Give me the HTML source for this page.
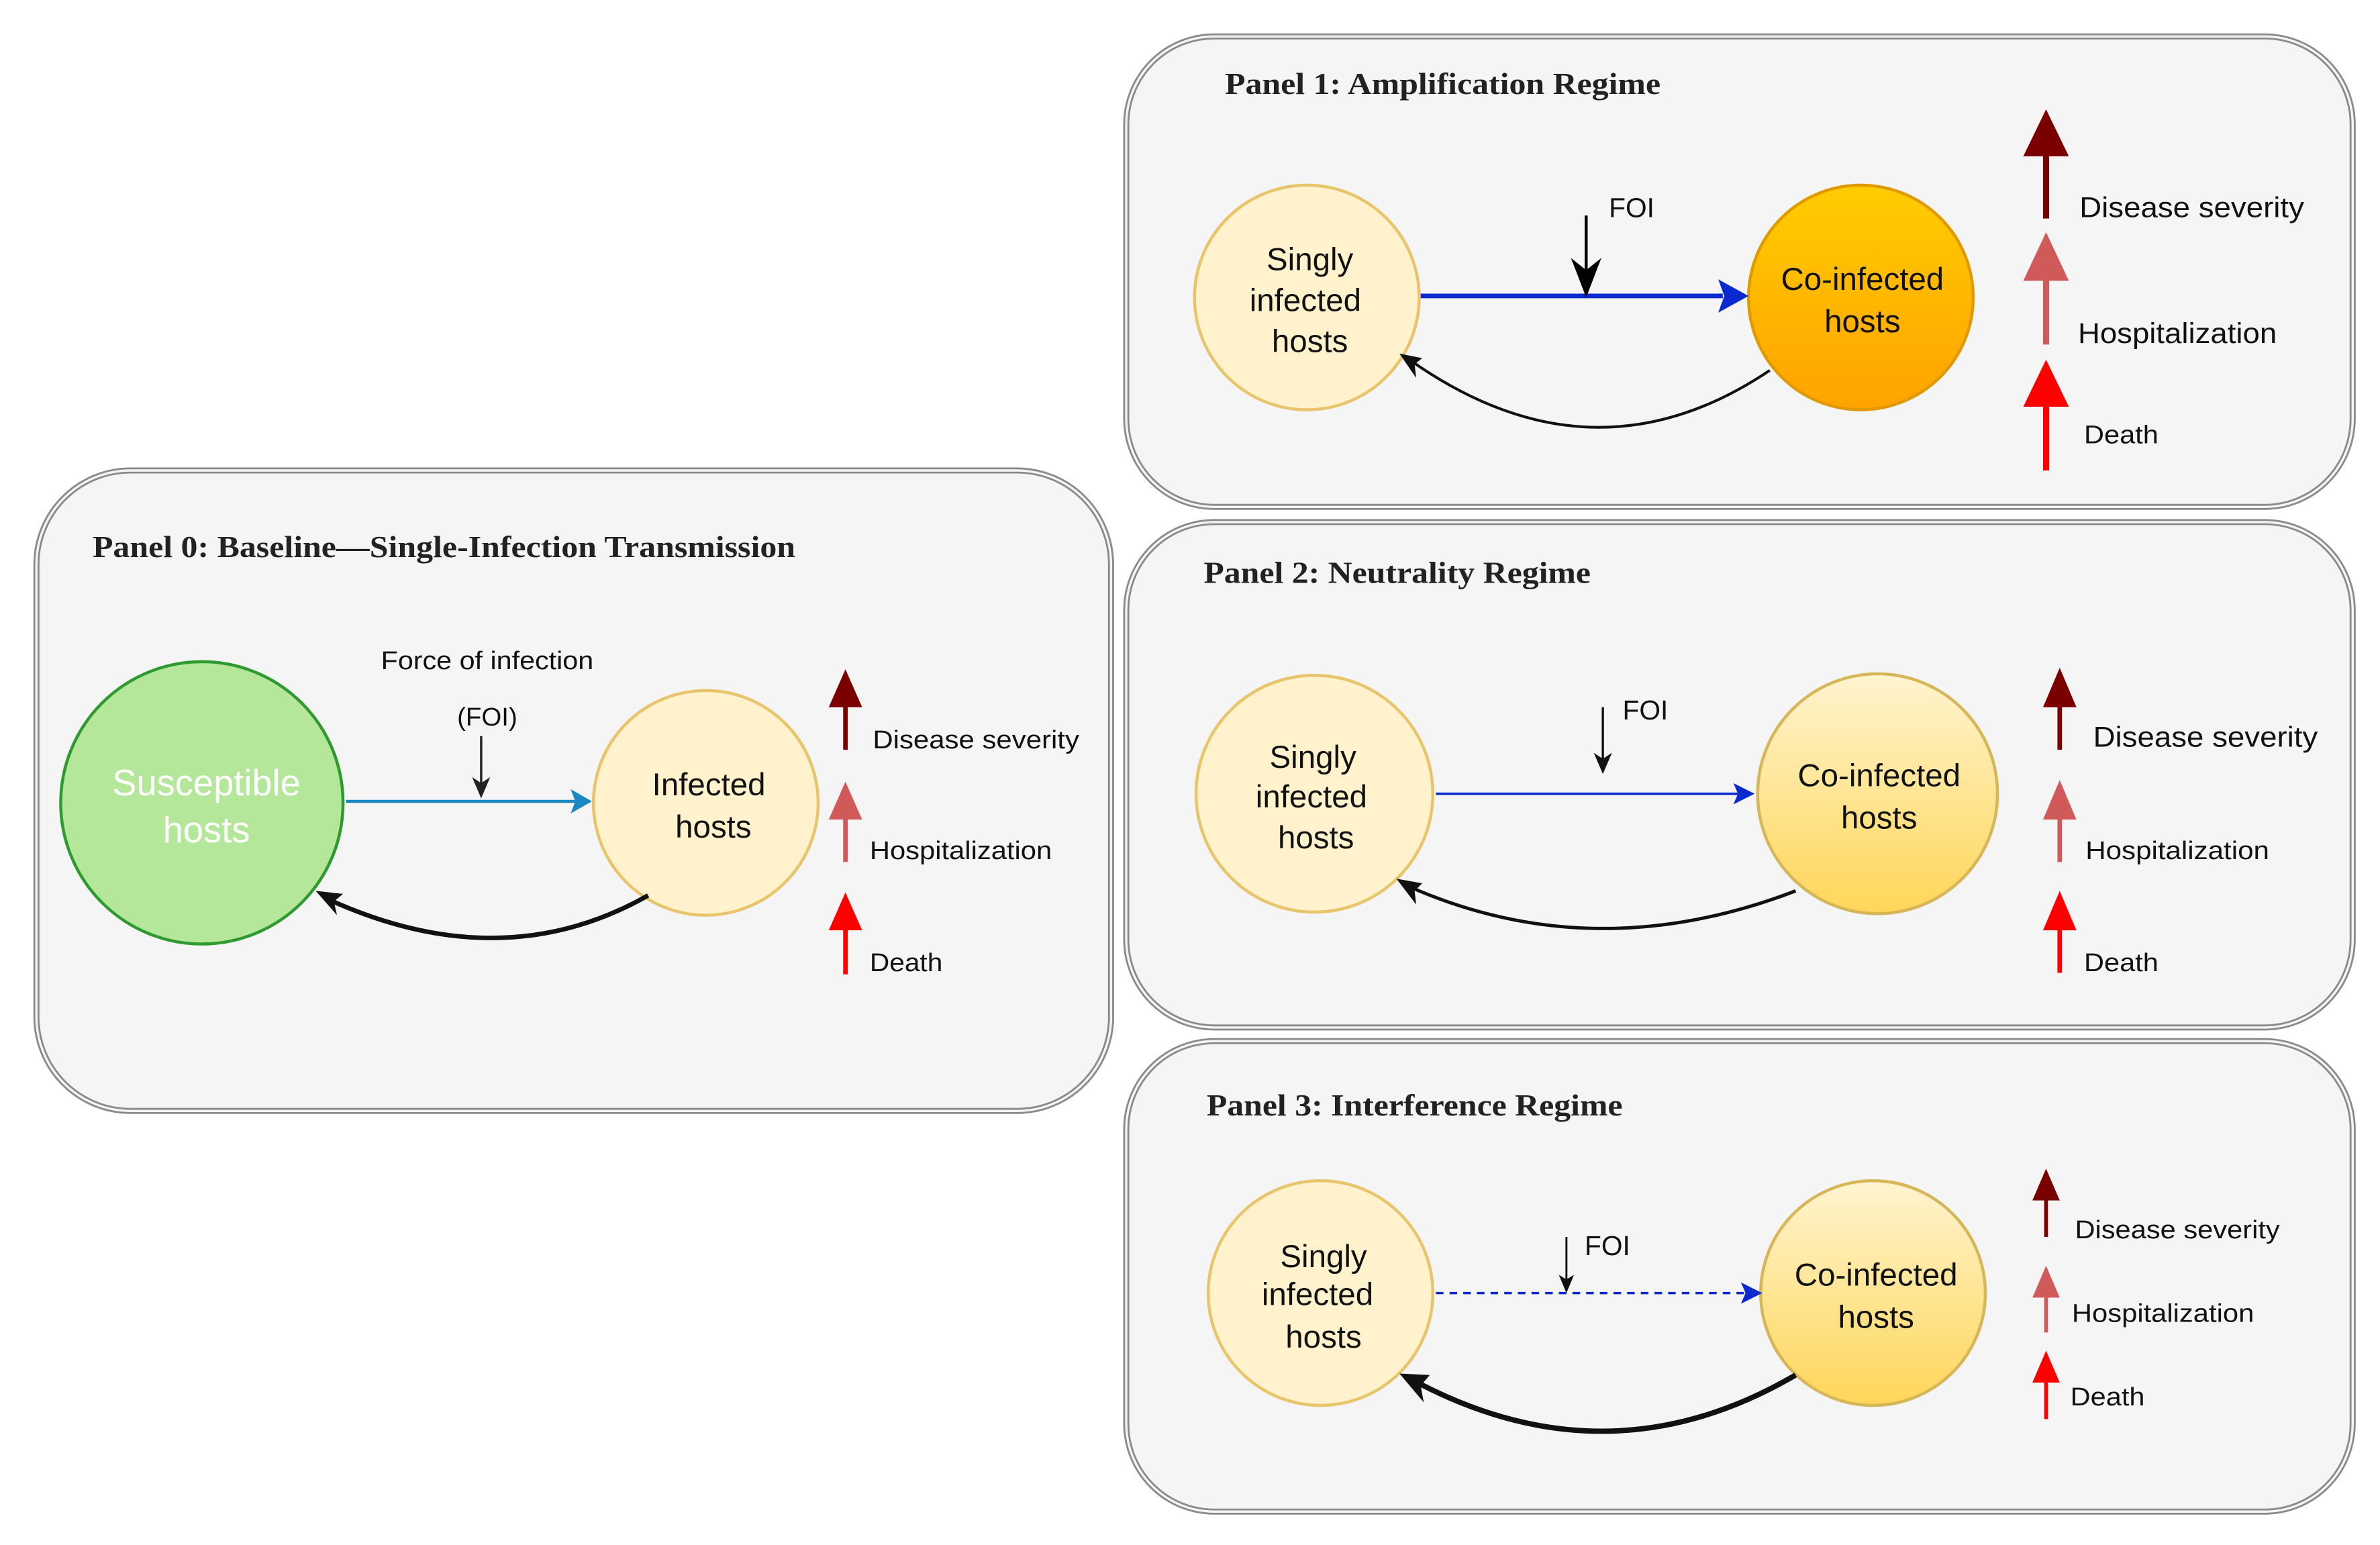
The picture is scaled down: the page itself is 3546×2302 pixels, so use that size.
<!DOCTYPE html>
<html><head><meta charset="utf-8"><style>
html,body{margin:0;padding:0;background:#fff}
svg{display:block}
.t{font-family:"Liberation Serif",serif;font-weight:bold;font-size:20px;fill:#222}
.s{font-family:"Liberation Sans",sans-serif;fill:#111}
</style></head><body>
<svg width="3546" height="2302" viewBox="0 0 1568 1018" preserveAspectRatio="none" xmlns="http://www.w3.org/2000/svg">
<defs>
<linearGradient id="og" x1="0" y1="0" x2="0" y2="1"><stop offset="0" stop-color="#ffcd00"/><stop offset="1" stop-color="#ffa200"/></linearGradient>
<linearGradient id="yg" x1="0" y1="0" x2="0" y2="1"><stop offset="0" stop-color="#fff4d0"/><stop offset="1" stop-color="#ffd659"/></linearGradient>
</defs>
<g fill="#f5f5f5" stroke="#8a8a8a" stroke-width="4">
<rect x="24" y="310" width="708" height="422" rx="62"/>
<rect x="742" y="24" width="808" height="310" rx="58"/>
<rect x="742" y="344" width="808" height="333" rx="58"/>
<rect x="742" y="686" width="808" height="310" rx="58"/>
</g>
<g fill="none" stroke="#f5f5f5" stroke-width="1.5">
<rect x="24" y="310" width="708" height="422" rx="62"/>
<rect x="742" y="24" width="808" height="310" rx="58"/>
<rect x="742" y="344" width="808" height="333" rx="58"/>
<rect x="742" y="686" width="808" height="310" rx="58"/>
</g>
<!-- Panel 0 -->
<text class="t" x="61" y="367" textLength="463" lengthAdjust="spacingAndGlyphs">Panel 0: Baseline—Single-Infection Transmission</text>
<circle cx="133" cy="529" r="93" fill="#b5e79b" stroke="#2f9a2f" stroke-width="2"/>
<text class="s" x="136" y="524" font-size="24" text-anchor="middle" style="fill:#fff">Susceptible</text>
<text class="s" x="136" y="555" font-size="24" text-anchor="middle" style="fill:#fff">hosts</text>
<circle cx="465" cy="529" r="74" fill="#fff2cc" stroke="#e8c46a" stroke-width="2"/>
<text class="s" x="467" y="524" font-size="21" text-anchor="middle">Infected</text>
<text class="s" x="470" y="552" font-size="21" text-anchor="middle">hosts</text>
<line x1="228" y1="528" x2="380" y2="528" stroke="#1a88c0" stroke-width="2"/>
<path d="M390 528 L376 520 L379 528 L376 536Z" fill="#1a88c0"/>
<text class="s" x="321" y="441" font-size="17" text-anchor="middle" textLength="140" lengthAdjust="spacingAndGlyphs">Force of infection</text>
<text class="s" x="321" y="478" font-size="17" text-anchor="middle">(FOI)</text>
<line x1="317" y1="485" x2="317" y2="522" stroke="#222" stroke-width="1.5"/>
<path d="M317 526 L311 512 L317 516 L323 512Z" fill="#222"/>
<path d="M427 590 Q330 645 215 592" fill="none" stroke="#111" stroke-width="3"/>
<path d="M208 587 L226 589 L220 594 L222 603Z" fill="#111"/>
<line x1="557" y1="494" x2="557" y2="462" stroke="#7a0000" stroke-width="3"/><path d="M557 441 L546 466 L568 466Z" fill="#7a0000"/>
<line x1="557" y1="568" x2="557" y2="536" stroke="#d05a5a" stroke-width="3"/><path d="M557 515 L546 540 L568 540Z" fill="#d05a5a"/>
<line x1="557" y1="642" x2="557" y2="610" stroke="#ff0000" stroke-width="3"/><path d="M557 588 L546 613 L568 613Z" fill="#ff0000"/>
<text class="s" x="575" y="493" font-size="17" textLength="136" lengthAdjust="spacingAndGlyphs">Disease severity</text>
<text class="s" x="573" y="566" font-size="17" textLength="120" lengthAdjust="spacingAndGlyphs">Hospitalization</text>
<text class="s" x="573" y="640" font-size="17" textLength="48" lengthAdjust="spacingAndGlyphs">Death</text>
<!-- Panel 1 -->
<text class="t" x="807" y="62" textLength="287" lengthAdjust="spacingAndGlyphs">Panel 1: Amplification Regime</text>
<circle cx="861" cy="196" r="74" fill="#fff2cc" stroke="#e8c46a" stroke-width="2"/>
<text class="s" x="863" y="178" font-size="21" text-anchor="middle">Singly</text>
<text class="s" x="860" y="205" font-size="21" text-anchor="middle">infected</text>
<text class="s" x="863" y="232" font-size="21" text-anchor="middle">hosts</text>
<circle cx="1226" cy="196" r="74" fill="url(#og)" stroke="#e09a00" stroke-width="2"/>
<text class="s" x="1227" y="191" font-size="21" text-anchor="middle">Co-infected</text>
<text class="s" x="1227" y="219" font-size="21" text-anchor="middle">hosts</text>
<line x1="936" y1="195" x2="1135" y2="195" stroke="#0a2ad0" stroke-width="3"/>
<path d="M1152 195 L1132 184 L1136 195 L1132 206Z" fill="#0a2ad0"/>
<line x1="1045" y1="142" x2="1045" y2="185" stroke="#000" stroke-width="2"/>
<path d="M1045 196 L1035 170 L1045 178 L1055 170Z" fill="#000"/>
<text class="s" x="1060" y="143" font-size="18">FOI</text>
<path d="M1166 244 Q1050 322 930 238" fill="none" stroke="#111" stroke-width="1.8"/>
<path d="M922 233 L937 236 L932 240 L933 249Z" fill="#111"/>
<line x1="1348" y1="144" x2="1348" y2="98" stroke="#7a0000" stroke-width="4"/><path d="M1348 72 L1333 103 L1363 103Z" fill="#7a0000"/>
<line x1="1348" y1="227" x2="1348" y2="180" stroke="#d05a5a" stroke-width="4"/><path d="M1348 153 L1333 185 L1363 185Z" fill="#d05a5a"/>
<line x1="1348" y1="310" x2="1348" y2="262" stroke="#ff0000" stroke-width="4"/><path d="M1348 237 L1333 268 L1363 268Z" fill="#ff0000"/>
<text class="s" x="1370" y="143" font-size="19" textLength="148" lengthAdjust="spacingAndGlyphs">Disease severity</text>
<text class="s" x="1369" y="226" font-size="19" textLength="131" lengthAdjust="spacingAndGlyphs">Hospitalization</text>
<text class="s" x="1373" y="292" font-size="17" textLength="49" lengthAdjust="spacingAndGlyphs">Death</text>
<!-- Panel 2 -->
<text class="t" x="793" y="384" textLength="255" lengthAdjust="spacingAndGlyphs">Panel 2: Neutrality Regime</text>
<circle cx="866" cy="523" r="78" fill="#fff2cc" stroke="#e8c46a" stroke-width="2"/>
<text class="s" x="865" y="506" font-size="21" text-anchor="middle">Singly</text>
<text class="s" x="864" y="532" font-size="21" text-anchor="middle">infected</text>
<text class="s" x="867" y="559" font-size="21" text-anchor="middle">hosts</text>
<circle cx="1237" cy="523" r="79" fill="url(#yg)" stroke="#d6b656" stroke-width="2"/>
<text class="s" x="1238" y="518" font-size="21" text-anchor="middle">Co-infected</text>
<text class="s" x="1238" y="546" font-size="21" text-anchor="middle">hosts</text>
<line x1="946" y1="523" x2="1145" y2="523" stroke="#0a2ad0" stroke-width="1.6"/>
<path d="M1156 523 L1142 516 L1145 523 L1142 530Z" fill="#0a2ad0"/>
<line x1="1056" y1="466" x2="1056" y2="503" stroke="#111" stroke-width="1.5"/>
<path d="M1056 510 L1050 496 L1056 500 L1062 496Z" fill="#111"/>
<text class="s" x="1069" y="474" font-size="18">FOI</text>
<path d="M1183 587 Q1050 638 928 584" fill="none" stroke="#111" stroke-width="2.2"/>
<path d="M920 579 L937 582 L932 587 L933 596Z" fill="#111"/>
<line x1="1357" y1="494" x2="1357" y2="462" stroke="#7a0000" stroke-width="3"/><path d="M1357 440 L1346 466 L1368 466Z" fill="#7a0000"/>
<line x1="1357" y1="568" x2="1357" y2="536" stroke="#d05a5a" stroke-width="3"/><path d="M1357 514 L1346 540 L1368 540Z" fill="#d05a5a"/>
<line x1="1357" y1="641" x2="1357" y2="609" stroke="#ff0000" stroke-width="3"/><path d="M1357 587 L1346 613 L1368 613Z" fill="#ff0000"/>
<text class="s" x="1379" y="492" font-size="19" textLength="148" lengthAdjust="spacingAndGlyphs">Disease severity</text>
<text class="s" x="1374" y="566" font-size="17" textLength="121" lengthAdjust="spacingAndGlyphs">Hospitalization</text>
<text class="s" x="1373" y="640" font-size="17" textLength="49" lengthAdjust="spacingAndGlyphs">Death</text>
<!-- Panel 3 -->
<text class="t" x="795" y="735" textLength="274" lengthAdjust="spacingAndGlyphs">Panel 3: Interference Regime</text>
<circle cx="870" cy="852" r="74" fill="#fff2cc" stroke="#e8c46a" stroke-width="2"/>
<text class="s" x="872" y="835" font-size="21" text-anchor="middle">Singly</text>
<text class="s" x="868" y="860" font-size="21" text-anchor="middle">infected</text>
<text class="s" x="872" y="888" font-size="21" text-anchor="middle">hosts</text>
<circle cx="1234" cy="852" r="74" fill="url(#yg)" stroke="#d6b656" stroke-width="2"/>
<text class="s" x="1236" y="847" font-size="21" text-anchor="middle">Co-infected</text>
<text class="s" x="1236" y="875" font-size="21" text-anchor="middle">hosts</text>
<line x1="946" y1="852" x2="1150" y2="852" stroke="#0a2ad0" stroke-width="1.5" stroke-dasharray="5,4"/>
<path d="M1161 852 L1147 845 L1150 852 L1147 859Z" fill="#0a2ad0"/>
<line x1="1032" y1="815" x2="1032" y2="845" stroke="#111" stroke-width="1.3"/>
<path d="M1032 852 L1027 840 L1032 843 L1037 840Z" fill="#111"/>
<text class="s" x="1044" y="827" font-size="18">FOI</text>
<path d="M1183 906 Q1060 978 932 910" fill="none" stroke="#111" stroke-width="3.5"/>
<path d="M922 905 L942 906 L936 913 L938 924Z" fill="#111"/>
<line x1="1348" y1="815" x2="1348" y2="788" stroke="#7a0000" stroke-width="2.5"/><path d="M1348 770 L1339 791 L1357 791Z" fill="#7a0000"/>
<line x1="1348" y1="878" x2="1348" y2="852" stroke="#d05a5a" stroke-width="2.5"/><path d="M1348 834 L1339 855 L1357 855Z" fill="#d05a5a"/>
<line x1="1348" y1="935" x2="1348" y2="908" stroke="#ff0000" stroke-width="2.5"/><path d="M1348 890 L1339 911 L1357 911Z" fill="#ff0000"/>
<text class="s" x="1367" y="816" font-size="17" textLength="135" lengthAdjust="spacingAndGlyphs">Disease severity</text>
<text class="s" x="1365" y="871" font-size="17" textLength="120" lengthAdjust="spacingAndGlyphs">Hospitalization</text>
<text class="s" x="1364" y="926" font-size="17" textLength="49" lengthAdjust="spacingAndGlyphs">Death</text>
</svg>
</body></html>
